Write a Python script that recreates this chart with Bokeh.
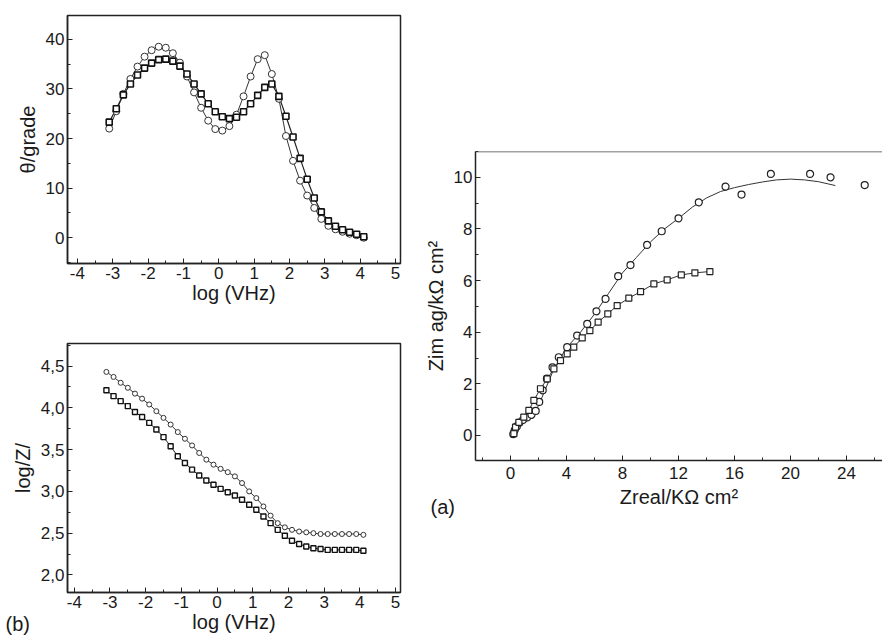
from bokeh.plotting import figure
from bokeh.layouts import row, column
from bokeh.models import Range1d, SingleIntervalTicker, Label, Span, CustomJSTickFormatter
from bokeh.embed import file_html
from bokeh.resources import INLINE

# ---------------- data ----------------
# Bode phase (top-left) and modulus (bottom-left): log frequency grid
log_f = [-3.1, -2.9, -2.7, -2.5, -2.3, -2.1, -1.9, -1.7, -1.5, -1.3, -1.1, -0.9, -0.7,
         -0.5, -0.3, -0.1, 0.1, 0.3, 0.5, 0.7, 0.9, 1.1, 1.3, 1.5, 1.7, 1.9, 2.1, 2.3,
         2.5, 2.7, 2.9, 3.1, 3.3, 3.5, 3.7, 3.9, 4.1]

theta_circle = [22.0, 25.5, 29.0, 32.0, 34.5, 36.5, 37.8, 38.5, 38.3, 37.2, 35.3, 32.5, 29.3,
                26.2, 23.6, 21.9, 21.6, 22.5, 24.8, 28.5, 32.5, 36.0, 36.8, 33.0, 28.0, 20.5,
                15.5, 11.5, 8.5, 6.0, 3.8, 2.4, 1.7, 1.2, 0.8, 0.5, 0.0]
theta_square = [23.3, 26.0, 28.8, 31.0, 32.8, 34.2, 35.2, 35.9, 36.0, 35.6, 34.6, 33.0, 31.0,
                29.0, 27.0, 25.4, 24.4, 24.0, 24.3, 25.4, 27.0, 28.7, 30.3, 31.0, 28.5, 24.5,
                20.3, 16.0, 11.8, 8.0, 5.2, 3.4, 2.3, 1.6, 1.1, 0.7, 0.2]

logz_circle = [4.43, 4.37, 4.30, 4.24, 4.17, 4.11, 4.04, 3.96, 3.88, 3.80, 3.71, 3.63, 3.55,
               3.46, 3.38, 3.32, 3.27, 3.23, 3.18, 3.10, 3.00, 2.92, 2.82, 2.71, 2.62, 2.57,
               2.54, 2.52, 2.51, 2.50, 2.49, 2.49, 2.49, 2.49, 2.49, 2.49, 2.48]
logz_square = [4.21, 4.14, 4.08, 4.02, 3.95, 3.89, 3.82, 3.74, 3.65, 3.54, 3.42, 3.34, 3.26,
               3.19, 3.13, 3.08, 3.03, 2.99, 2.95, 2.90, 2.84, 2.78, 2.70, 2.62, 2.54, 2.47,
               2.41, 2.37, 2.34, 2.32, 2.31, 2.30, 2.30, 2.30, 2.30, 2.30, 2.29]

# Nyquist (right)
zr_circle = [0.2, 0.3, 0.45, 0.65, 0.9, 1.2, 1.5, 1.8, 2.05, 2.3, 2.6, 3.0, 3.45, 4.05, 4.76,
             5.48, 6.14, 6.79, 7.69, 8.57, 9.76, 10.8, 12.0, 13.45, 15.36, 16.5, 18.6, 21.4,
             22.86, 25.3]
zi_circle = [0.05, 0.2, 0.35, 0.5, 0.6, 0.7, 0.8, 0.95, 1.3, 1.75, 2.2, 2.64, 3.03, 3.42, 3.87,
             4.32, 4.81, 5.29, 6.17, 6.6, 7.38, 7.91, 8.41, 9.03, 9.64, 9.33, 10.13, 10.13,
             10.0, 9.7]
zr_circle_fit = [0.2, 0.6, 1.0, 1.5, 2.0, 2.5, 3.0, 3.5, 4.0, 5.0, 6.0, 7.0, 8.0, 9.0, 10.0,
                 11.0, 12.0, 13.0, 14.0, 15.0, 16.0, 17.0, 18.0, 19.0, 20.0, 21.0, 22.0, 23.2]
zi_circle_fit = [0.05, 0.4, 0.6, 0.8, 1.15, 1.8, 2.45, 2.95, 3.4, 4.0, 4.7, 5.5, 6.3, 6.9,
                 7.5, 8.0, 8.41, 8.85, 9.2, 9.45, 9.6, 9.72, 9.82, 9.9, 9.93, 9.9, 9.83, 9.68]
zr_square = [0.24, 0.36, 0.6, 0.95, 1.31, 1.67, 2.14, 2.62, 3.1, 3.57, 4.05, 4.52, 5.12, 5.67,
             6.26, 6.95, 7.62, 8.45, 9.29, 10.24, 11.19, 12.2, 13.17, 14.24]
zi_square = [0.07, 0.32, 0.51, 0.71, 0.97, 1.36, 1.81, 2.19, 2.58, 2.9, 3.16, 3.42, 3.78, 4.06,
             4.39, 4.71, 5.03, 5.32, 5.57, 5.87, 6.03, 6.22, 6.3, 6.35]

# ---------------- styling helpers ----------------
FONT = "Liberation Sans"
TXT = "#1a1a1a"
PLAIN = "return String(tick);"


def style(p, outline=True):
    p.toolbar_location = None
    p.grid.visible = False
    p.background_fill_color = "white"
    p.border_fill_color = "white"
    if outline:
        p.outline_line_color = "#222222"
        p.outline_line_width = 1.5
    else:
        p.outline_line_color = None
    for ax in p.axis:
        ax.axis_line_color = "#222222"
        ax.axis_line_width = 1.5
        ax.major_tick_in = 5
        ax.major_tick_out = 0
        ax.minor_tick_in = 3
        ax.minor_tick_out = 0
        ax.major_tick_line_color = "#222222"
        ax.minor_tick_line_color = "#222222"
        ax.major_label_text_font = FONT
        ax.major_label_text_font_size = "17px"
        ax.major_label_text_color = TXT
        ax.axis_label_text_font = FONT
        ax.axis_label_text_font_size = "20px"
        ax.axis_label_text_font_style = "normal"
        ax.axis_label_text_color = TXT
        ax.major_label_standoff = 3
        ax.axis_label_standoff = 4


def panel_label(text, x, y):
    kw = dict(x=x, y=y, text=text, text_font=FONT, text_font_size="20px",
              text_color=TXT, text_baseline="alphabetic")
    try:
        return Label(x_units="canvas", y_units="canvas", **kw)
    except Exception:
        return Label(x_units="screen", y_units="screen", **kw)


# ---------------- top-left: phase ----------------
p1 = figure(width=418, height=318, output_backend="svg", toolbar_location=None,
            x_range=Range1d(-4.28, 5.14), y_range=Range1d(-5.2, 44.8),
            min_border_left=63, min_border_right=18, min_border_top=15, min_border_bottom=55)
style(p1)
p1.xaxis.ticker = SingleIntervalTicker(interval=1, num_minor_ticks=2)
p1.yaxis.ticker = SingleIntervalTicker(interval=10, num_minor_ticks=2)
p1.xaxis.formatter = CustomJSTickFormatter(code=PLAIN)
p1.xaxis.axis_label = "log (VHz)"
p1.yaxis.axis_label = "θ/grade"
p1.xaxis.axis_label_standoff = 0
p1.line(log_f, theta_circle, line_color="#333333", line_width=1)
p1.line(log_f, theta_square, line_color="#222222", line_width=1.2)
p1.scatter(log_f, theta_circle, marker="circle", size=7, fill_color="white",
           line_color="#333333", line_width=1)
p1.scatter(log_f, theta_square, marker="square", size=6, fill_color="white",
           line_color="#111111", line_width=1.6)

# ---------------- bottom-left: modulus ----------------
p2 = figure(width=418, height=318, output_backend="svg", toolbar_location=None,
            x_range=Range1d(-4.19, 5.14), y_range=Range1d(1.79, 4.77),
            min_border_left=67, min_border_right=15, min_border_top=25, min_border_bottom=44)
style(p2)
p2.xaxis.ticker = SingleIntervalTicker(interval=1, num_minor_ticks=2)
p2.yaxis.ticker = SingleIntervalTicker(interval=0.5, num_minor_ticks=2)
p2.xaxis.formatter = CustomJSTickFormatter(code=PLAIN)
p2.yaxis.formatter = CustomJSTickFormatter(code="return tick.toFixed(1).replace('.', ',');")
p2.xaxis.axis_label = "log (VHz)"
p2.yaxis.axis_label = "log/Z/"
p2.xaxis.axis_label_standoff = 0
p2.xaxis.major_label_standoff = 3
p2.line(log_f, logz_circle, line_color="#333333", line_width=1)
p2.line(log_f, logz_square, line_color="#222222", line_width=1)
p2.scatter(log_f, logz_circle, marker="circle", size=5, fill_color="white",
           line_color="#333333", line_width=1)
p2.scatter(log_f, logz_square, marker="square", size=5, fill_color="white",
           line_color="#111111", line_width=1.4)
p2.add_layout(panel_label("(b)", 5, 305), "above")

# ---------------- right: Nyquist ----------------
p3 = figure(width=464, height=528, output_backend="svg", toolbar_location=None,
            x_range=Range1d(-2.5, 26.57), y_range=Range1d(-0.97, 11.0),
            min_border_left=57, min_border_right=0, min_border_top=151, min_border_bottom=68)
style(p3, outline=False)
p3.xaxis.ticker = SingleIntervalTicker(interval=4, num_minor_ticks=2)
p3.yaxis.ticker = SingleIntervalTicker(interval=2, num_minor_ticks=2)
p3.xaxis.formatter = CustomJSTickFormatter(code=PLAIN)
p3.xaxis.axis_label = "Zreal/KΩ cm²"
p3.yaxis.axis_label = "Zim ag/kΩ cm²"
p3.xaxis.major_label_standoff = 6
p3.add_layout(Span(location=11.0, dimension="width", line_color="#444444", line_width=1.5))
p3.line(zr_circle_fit, zi_circle_fit, line_color="#333333", line_width=1)
p3.line(zr_square, zi_square, line_color="#333333", line_width=1)
p3.scatter(zr_circle, zi_circle, marker="circle", size=7, fill_color="white",
           line_color="#222222", line_width=1.2)
p3.scatter(zr_square, zi_square, marker="square", size=6, fill_color="white",
           line_color="#222222", line_width=1.2)
p3.add_layout(panel_label("(a)", 12, 506), "above")

layout = row(column(p1, p2), p3)
open("out.html", "w").write(file_html(layout, INLINE))
